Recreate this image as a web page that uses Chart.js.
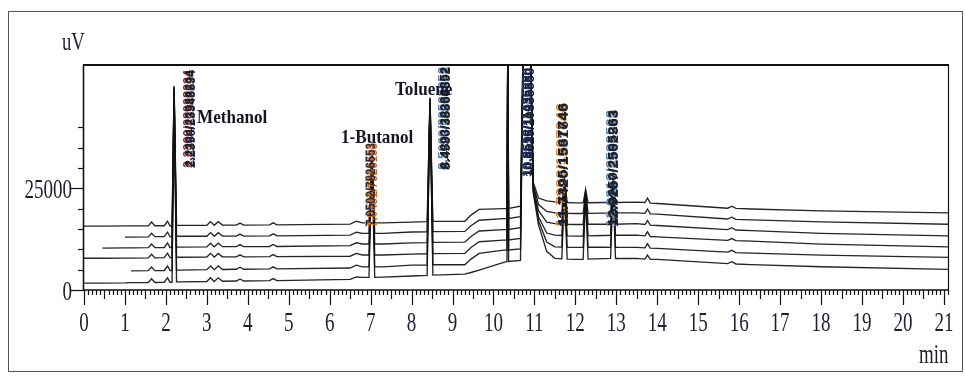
<!DOCTYPE html>
<html>
<head>
<meta charset="utf-8">
<script src="https://cdn.jsdelivr.net/npm/chart.js@4.4.0/dist/chart.umd.min.js"></script>
<style>
  html, body { margin: 0; padding: 0; background: #fff; }
  #wrap { width: 965px; height: 379px; }
</style>
</head>
<body>
<div id="wrap"><canvas id="chromChart"></canvas></div>
<script>
// retention time grid (min), shared by the six overlaid runs
const retTimes = [
  0, 0.45, 1.0, 1.15, 1.57, 1.65, 1.73, 1.96, 2.04, 2.10, 2.15, 2.20, 2.26, 2.32,
  3.00, 3.09, 3.18, 3.28, 3.38, 3.72, 3.81, 3.90, 4.53, 4.62, 4.71,
  6.50, 6.65, 6.80, 6.96, 7.03, 7.10, 7.30, 8.00, 8.38, 8.45, 8.52, 9.30, 9.45, 9.65,
  10.25, 10.33, 10.35, 10.37, 10.66, 10.74, 10.88, 10.97, 11.10, 11.30, 11.50,
  11.67, 11.73, 11.80, 12.00, 12.19, 12.25, 12.31, 12.70, 12.86, 12.92, 12.98,
  13.50, 13.70, 13.76, 13.83, 14.00, 15.72, 15.82, 15.92, 16.30, 18.00, 21.10, 21.38
];

// detector signal (uV) for each run, top trace first
const run1 = [
  15700, 15700, 15750, 15750, 15750, 16700, 15800, 15800, 16900, 15800, 15800, 50200, 15900, 15900,
  15900, 16800, 15900, 16800, 15950, 15950, 16450, 15950, 16000, 16500, 16000,
  16200, 16900, 16500, 16500, 34200, 16500, 16500, 16700, 16800, 47300, 16850, 16900, 18400, 19800,
  20000, 20000, 62000, 20050, 20600, 70000, 70000, 26500, 22600, 21900, 21650,
  21600, 27500, 21500, 21400, 21400, 24600, 21450, 21500, 21500, 27000, 21500,
  21600, 21500, 22600, 21350, 21250, 20100, 20600, 20050, 19900, 19450, 18950, 26200
];
const run2 = [
  null, null, 13000, 13000, 13050, 13950, 13100, 13100, 14200, 13100, 13100, 49800, 13200, 13200,
  13200, 14100, 13200, 14100, 13250, 13250, 13750, 13250, 13300, 13800, 13300,
  13500, 14200, 13900, 13900, 34000, 13900, 13900, 14250, 14300, 47000, 14350, 14400, 15800, 17150,
  17550, 17550, 62000, 17600, 18000, 70000, 70000, 26000, 21000, 19300, 18950,
  18900, 27000, 18850, 18800, 18800, 24300, 18850, 18900, 18950, 26700, 18950,
  18950, 18850, 19900, 18700, 18630, 17450, 17900, 17350, 17250, 16750, 16170, 23300
];
const run3 = [
  null, 10300, 10350, 10350, 10400, 11300, 10400, 10450, 11550, 10450, 10450, 49500, 10550, 10550,
  10600, 11500, 10600, 11500, 10650, 10650, 11150, 10650, 10700, 11200, 10700,
  10900, 11600, 11300, 11300, 33800, 11300, 11300, 11600, 11650, 46800, 11700, 11750, 13150, 14500,
  14850, 14850, 62000, 14900, 15300, 70000, 70000, 25500, 19500, 16700, 16300,
  16200, 26500, 16150, 16100, 16100, 24000, 16150, 16150, 16150, 26400, 16150,
  16300, 16100, 17100, 15950, 15860, 14850, 15300, 14750, 14600, 13900, 13310, 20400
];
const run4 = [
  7800, 7800, 7850, 7850, 7900, 8800, 7900, 7950, 9050, 7950, 7950, 49000, 8050, 8050,
  8100, 9000, 8100, 9000, 8150, 8150, 8650, 8150, 8200, 8700, 8200,
  8300, 9000, 8600, 8600, 33600, 8600, 8600, 8820, 8900, 46600, 8950, 9000, 10450, 11850,
  12250, 12250, 62000, 12300, 12700, 70000, 70000, 25000, 18000, 14000, 13480,
  13400, 26000, 13300, 13240, 13250, 23700, 13300, 13400, 13450, 26200, 13450,
  13480, 13300, 14300, 13150, 13060, 12200, 12650, 12120, 12000, 11270, 10610, 15500
];
const run5 = [
  null, null, null, 4700, 4750, 5650, 4750, 4800, 5900, 4800, 4800, 48500, 4900, 4900,
  5000, 5900, 5000, 5900, 5050, 5100, 5600, 5100, 5200, 5700, 5200,
  5400, 6100, 5700, 5700, 33400, 5700, 5700, 6130, 6150, 46400, 6200, 6200, 7600, 9000,
  9800, 9800, 62000, 9850, 10100, 70000, 70000, 24500, 17000, 11800, 10610,
  10550, 25500, 10500, 10470, 10480, 23500, 10500, 10500, 10480, 26000, 10480,
  10470, 10350, 11350, 10300, 10220, 9300, 9750, 9200, 9050, 8580, 8010, 9800
];
const run6 = [
  1700, 1700, 1750, 1800, 1850, 2750, 1850, 1900, 3000, 1900, 1900, 48000, 2000, 2000,
  2100, 3000, 2100, 3000, 2150, 2200, 2700, 2200, 2300, 2800, 2300,
  2600, 3200, 3100, 3100, 33200, 3100, 3150, 3430, 3600, 46200, 3650, 3900, 4300, 4900,
  6800, 6950, 62000, 7000, 7300, 70000, 70000, 24000, 16000, 9500, 7770,
  7650, 25000, 7600, 7520, 7550, 23200, 7600, 7700, 7750, 25800, 7750,
  7770, 7600, 8600, 7550, 7520, 6500, 6950, 6400, 6250, 5710, 5070, 4500
];

const xTickLabels = [0, 1, 2, 3, 4, 5, 6, 7, 8, 9, 10, 11, 12, 13, 14, 15, 16, 17, 18, 19, 20, 21];
const yTickLabels = [0, 25000];
const yMinorTicks = [0, 5000, 10000, 15000, 20000, 25000, 30000, 35000, 40000];

// compound names and the peak-table tags printed over each peak
const compoundNames = ['Methanol', '1-Butanol', 'Toluene'];
const tagTimes = [2.21, 7.03, 8.45, 10.80, 11.73, 12.92];
const tagTexts = [
  ['2.2300/28938234', '2.2396/23348534', '2.2384/23988294'],
  ['7.0523/7526753', '7.0481/7326153', '7.0502/7826553'],
  ['8.5000/38563352', '8.4980/38866592', '8.4893/38368852'],
  ['10.8510/11436580', '10.8625/10835550', '10.8598/11035880'],
  ['11.7386/1597946', '11.7420/1531646', '11.7395/1567746'],
  ['12.9213/2592563', '12.9187/2562563', '12.9250/2595263']
];

const runs = [run1, run2, run3, run4, run5, run6];

function squeezedText(ctx, str, x, y, size, sx, align, weight) {
  ctx.save();
  ctx.translate(x, y);
  ctx.scale(sx, 1);
  ctx.font = (weight || '') + ' ' + size + 'px "Liberation Serif"';
  ctx.textAlign = align;
  ctx.textBaseline = 'alphabetic';
  ctx.fillText(str, 0, 0);
  ctx.restore();
}

function tagText(ctx, str, x, yBottom, yTop, color) {
  ctx.save();
  ctx.translate(x, yBottom);
  ctx.rotate(-Math.PI / 2);
  ctx.font = 'bold 13px "Liberation Sans"';
  const w = ctx.measureText(str).width;
  ctx.scale((yBottom - yTop) / w, 1);
  ctx.fillStyle = color;
  ctx.textAlign = 'left';
  ctx.textBaseline = 'middle';
  ctx.fillText(str, 0, 0);
  ctx.restore();
}

const chromAxes = {
  id: 'chromAxes',
  afterDatasetsDraw(chart) {
    const ctx = chart.ctx;
    const a = chart.chartArea;
    const xs = chart.scales.x, ys = chart.scales.y;
    const seg = (x1, y1, x2, y2) => { ctx.beginPath(); ctx.moveTo(x1, y1); ctx.lineTo(x2, y2); ctx.stroke(); };
    ctx.save();

    // figure border
    ctx.strokeStyle = '#555';
    ctx.lineWidth = 1;
    ctx.strokeRect(8.5, 11.5, 954, 360);

    // plot frame
    ctx.strokeStyle = '#111';
    ctx.lineWidth = 2;
    seg(a.left - 1, a.top, a.right + 1, a.top);
    ctx.lineWidth = 1.6;
    seg(a.left - 0.5, a.top, a.left - 0.5, a.bottom + 1);
    seg(a.left - 1, a.bottom, a.right + 1, a.bottom);
    ctx.lineWidth = 1.2;
    seg(a.right + 0.5, a.top, a.right + 0.5, a.bottom);

    // x ticks every 0.1 min
    ctx.lineWidth = 1.2;
    for (let i = 0; i <= Math.round(xs.max * 10); i++) {
      const px = Math.round(xs.getPixelForValue(i / 10)) + 0.5;
      const len = i % 10 === 0 ? 15 : (i % 5 === 0 ? 9 : 5);
      seg(px, a.bottom, px, a.bottom + len);
    }
    // y ticks
    yMinorTicks.forEach(v => {
      const py = Math.round(ys.getPixelForValue(v)) + 0.5;
      const len = yTickLabels.includes(v) ? 13 : 6;
      seg(a.left - len, py, a.left, py);
    });

    // tick labels and axis titles
    ctx.fillStyle = '#1e1e30';
    xTickLabels.forEach(v => {
      squeezedText(ctx, String(v), xs.getPixelForValue(v), 331, 28, 0.68, 'center');
    });
    yTickLabels.forEach(v => {
      squeezedText(ctx, String(v), 72, ys.getPixelForValue(v) + 10, 28, 0.68, 'right');
    });
    squeezedText(ctx, 'uV', 62, 50, 26, 0.72, 'left');
    squeezedText(ctx, 'min', 919, 363, 27, 0.7, 'left');

    // peak-table tags (overlapping labels of the six runs)
    const tagPos = [[15.5, 168, 70], [0, 227, 143], [15, 170, 67], [2.5, 177, 68], [-1, 227, 103], [0, 227, 110]];
    const tagColors = [['#8a2a30', '#1c2a60', '#202020'], ['#e08a30', '#d07020', '#2a2a40'],
                       ['#5a80b8', '#1c2a55', '#202020'], ['#2a3a70', '#151515', '#1c2a55'],
                       ['#e08a30', '#1c2a50', '#202020'], ['#5a8ac0', '#1c2a55', '#202020']];
    tagTimes.forEach((t, i) => {
      const x = xs.getPixelForValue(t) + tagPos[i][0];
      tagText(ctx, tagTexts[i][0], x - 1.5, tagPos[i][1], tagPos[i][2], tagColors[i][0]);
      tagText(ctx, tagTexts[i][1], x + 1.5, tagPos[i][1], tagPos[i][2], tagColors[i][1]);
      tagText(ctx, tagTexts[i][2], x, tagPos[i][1] - 1, tagPos[i][2], tagColors[i][2]);
    });

    // compound names
    ctx.fillStyle = '#151525';
    squeezedText(ctx, compoundNames[0], 197, 123, 19, 0.9, 'left', 'bold');
    squeezedText(ctx, compoundNames[1], 341, 143, 19, 0.9, 'left', 'bold');
    squeezedText(ctx, compoundNames[2], 395, 95, 19, 0.9, 'left', 'bold');

    ctx.restore();
  }
};

new Chart(document.getElementById('chromChart'), {
  type: 'line',
  data: {
    datasets: runs.map((run, k) => ({
      label: 'Run ' + (k + 1),
      data: retTimes.map((t, i) => ({ x: t, y: run[i] })),
      borderColor: 'rgba(18,18,18,0.92)',
      borderWidth: 1.35,
      pointRadius: 0,
      tension: 0,
      spanGaps: false,
      clip: { left: 0, top: 0, right: 14, bottom: 0 }
    }))
  },
  options: {
    responsive: true,
    maintainAspectRatio: false,
    animation: false,
    events: [],
    layout: { padding: { left: 84, right: 17, top: 65, bottom: 89 } },
    plugins: { legend: { display: false }, tooltip: { enabled: false } },
    scales: {
      x: { type: 'linear', min: 0, max: 21.1, display: false },
      y: { min: 0, max: 55300, display: false }
    }
  },
  plugins: [chromAxes]
});
</script>
</body>
</html>
